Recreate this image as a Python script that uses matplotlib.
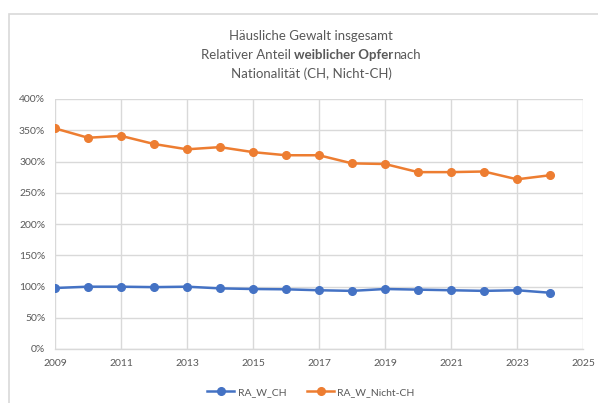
import matplotlib
matplotlib.use("Agg")
import matplotlib.pyplot as plt
from matplotlib.lines import Line2D
from matplotlib.patches import Rectangle

years = list(range(2009, 2025))
ra_w_ch = [97.6, 99.7, 99.7, 99.0, 99.7, 97.0, 96.0, 95.5, 94.0, 93.0, 96.0, 95.0, 94.0, 93.0, 94.0, 90.0]
ra_w_nicht_ch = [353, 338, 341, 328, 319.5, 323, 315, 310, 310, 297, 296, 283, 283, 284, 271.5, 278]
x_ticks = list(range(2009, 2026, 2))
y_ticks = list(range(0, 401, 50))
series_names = ["RA_W_CH", "RA_W_Nicht-CH"]
colors = ["#4472C4", "#ED7D31"]

plt.rcParams['font.family'] = ['Lato', 'DejaVu Sans']

W, H = 598, 403
fig = plt.figure(figsize=(W/100, H/100), dpi=100)
fig.patch.set_facecolor("white")

# outer chart border (right and bottom edges lie outside the image)
fig.add_artist(Rectangle((9/W, -10/H), (620-9)/W, (403+10-14)/H, transform=fig.transFigure,
                         fill=False, edgecolor="#D9D9D9", linewidth=1.2))

ax = fig.add_axes([55/W, 1 - 349/H, (583-55)/W, (349-99)/H])
for name, vals, c in zip(series_names, [ra_w_ch, ra_w_nicht_ch], colors):
    ax.plot(years, vals, color=c, linewidth=1.8, marker='o', markersize=5.5, label=name, zorder=3)

ax.set_xlim(2009, 2025)
ax.set_ylim(0, 400)
ax.set_xticks(x_ticks)
ax.set_yticks(y_ticks)
ax.set_yticklabels([f"{v}%" for v in y_ticks])
ax.grid(True, color="#D9D9D9", linewidth=1.0)
ax.set_axisbelow(True)
for s in ["top", "right", "left"]:
    ax.spines[s].set_visible(False)
ax.spines["bottom"].set_color("#D9D9D9")
ax.spines["bottom"].set_linewidth(1.0)
ax.tick_params(axis='both', length=0, labelsize=7.5, labelcolor="#595959")
ax.tick_params(axis='y', pad=7)
ax.tick_params(axis='x', pad=7)

# title
tcolor = "#595959"
fs = 9.5
fig.text(311/W, 1 - 36/H, "Häusliche Gewalt insgesamt", ha='center', va='center', fontsize=fs, color=tcolor)
fig.text(311/W, 1 - 74/H, "Nationalität (CH, Nicht-CH)", ha='center', va='center', fontsize=fs, color=tcolor)
parts = [("Relativer Anteil ", 'normal'), ("weiblicher Opfer", 'bold'), ("nach", 'normal')]
texts = [fig.text(0, 1 - 55/H, p, ha='left', va='center', fontsize=fs, color=tcolor, fontweight=w) for p, w in parts]
fig.canvas.draw()
r = fig.canvas.get_renderer()
widths = [t.get_window_extent(r).width for t in texts]
total = sum(widths)
x0 = 311 - total / 2
for t, w in zip(texts, widths):
    t.set_x(x0 / W)
    x0 += w

handles = [Line2D([], [], color=c, linewidth=1.8, marker='o', markersize=5.5) for c in colors]
fig.legend(handles, series_names, loc='center', bbox_to_anchor=(311/W, 1 - 392/H), ncol=2, frameon=False,
           fontsize=7.5, labelcolor="#595959", handlelength=2.6, columnspacing=2.0, handletextpad=0.3)

fig.savefig("out.png", dpi=100, facecolor="white")
